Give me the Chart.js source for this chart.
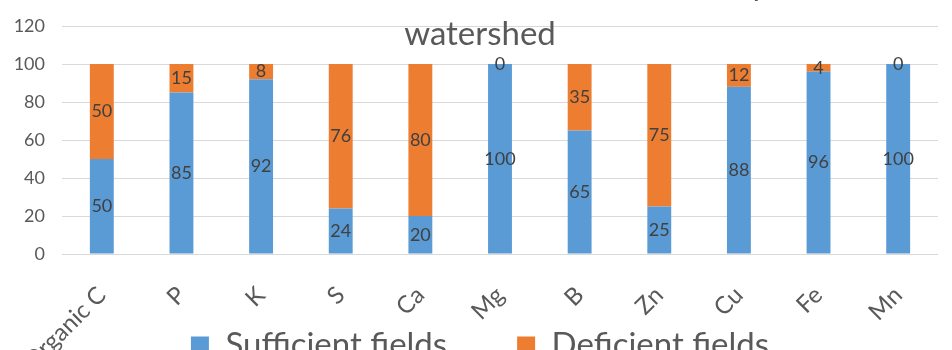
<!DOCTYPE html>
<html>
<head>
<meta charset="utf-8">
<script src="https://cdn.jsdelivr.net/npm/chart.js@4.4.0/dist/chart.umd.min.js"></script>
<style>
  html, body { margin: 0; padding: 0; background: #fff; }
  #wrap { position: relative; width: 952px; height: 350px; overflow: hidden; }
  #box { position: absolute; left: -10px; top: -40px; width: 980px; height: 412px; }
</style>
</head>
<body>
<div id="wrap"><div id="box"><canvas id="nutrientChart"></canvas></div></div>
<script>
const nutrients = ["Organic C", "P", "K", "S", "Ca", "Mg", "B", "Zn", "Cu", "Fe", "Mn"];
const sufficient = [50, 85, 92, 24, 20, 100, 65, 25, 88, 96, 100];
const deficient = [50, 15, 8, 76, 80, 0, 35, 75, 12, 4, 0];
const yTicks = [0, 20, 40, 60, 80, 100, 120];
const titleLines = ["Soil nutrient status of fields in the study", "watershed"];
const seriesNames = ["Sufficient fields", "Deficient fields"];

const grey = "#595959";

// value labels in the middle of each stacked segment
const barLabels = {
    id: "barLabels",
    afterDatasetsDraw(chart) {
        const ctx = chart.ctx;
        ctx.save();
        ctx.font = "18px Lato";
        ctx.fillStyle = "#404040";
        ctx.textAlign = "center";
        ctx.textBaseline = "middle";
        chart.data.datasets.forEach((ds, i) => {
            chart.getDatasetMeta(i).data.forEach((bar, j) => {
                ctx.fillText(ds.data[j], bar.x, (bar.y + bar.base) / 2);
            });
        });
        ctx.restore();
    }
};

// axes are squeezed so title/legend centre like the original and the legend
// sits beside the rotated labels; widen their label clip areas again
const labelRoom = {
    id: "labelRoom",
    afterLayout(chart) {
        chart.scales.x.bottom = chart.height;
        chart.scales.y.left = 0;
    }
};

new Chart(document.getElementById("nutrientChart"), {
    type: "bar",
    data: {
        labels: nutrients,
        datasets: [
            { label: seriesNames[0], data: sufficient, backgroundColor: "#5B9BD5" },
            { label: seriesNames[1], data: deficient, backgroundColor: "#ED7D31" }
        ]
    },
    options: {
        responsive: true,
        maintainAspectRatio: false,
        animation: false,
        layout: { padding: { left: 32, right: 32, top: 0, bottom: 0 } },
        datasets: { bar: { barPercentage: 0.3, categoryPercentage: 1 } },
        scales: {
            x: {
                stacked: true,
                grid: { display: false },
                border: { display: false },
                ticks: {
                    color: grey,
                    font: { family: "Lato", size: 24 },
                    minRotation: 45,
                    maxRotation: 45,
                    padding: 19
                },
                afterFit: scale => {
                    scale.height = 5;
                    scale.paddingLeft = 0;
                }
            },
            y: {
                stacked: true,
                min: 0,
                max: 120,
                grid: { color: "#D9D9D9", drawTicks: false },
                border: { display: false },
                ticks: { color: grey, font: { family: "Lato", size: 18 }, padding: 17 },
                afterBuildTicks: scale => { scale.ticks = yTicks.map(v => ({ value: v })); },
                afterFit: scale => { scale.width = 40; }
            }
        },
        plugins: {
            tooltip: { enabled: false },
            title: {
                display: true,
                text: titleLines,
                color: grey,
                font: { family: "Lato", size: 33, weight: "normal", lineHeight: 1.5 },
                padding: { top: 0, bottom: -33 }
            },
            legend: {
                position: "bottom",
                labels: {
                    color: grey,
                    font: { family: "Lato", size: 33 },
                    boxWidth: 18,
                    boxHeight: 18,
                    padding: 70
                }
            }
        }
    },
    plugins: [barLabels, labelRoom]
});
</script>
</body>
</html>
